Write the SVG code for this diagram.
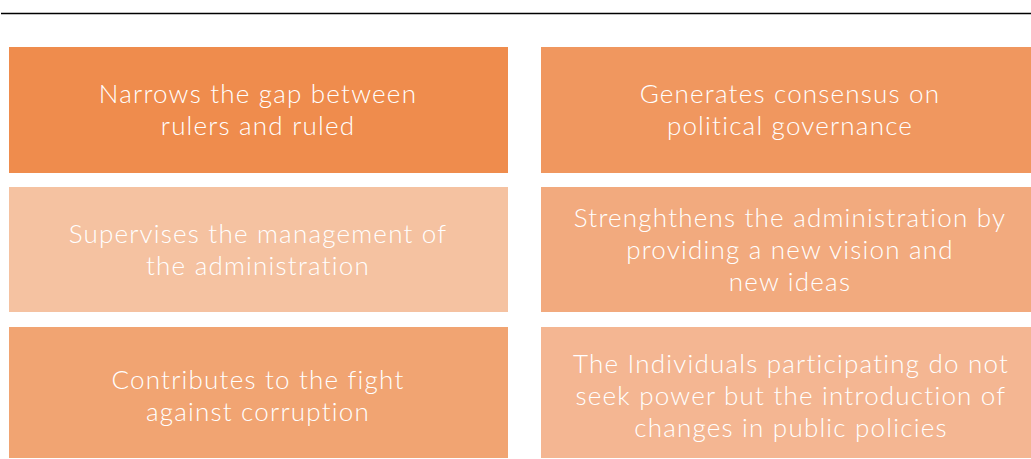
<svg xmlns="http://www.w3.org/2000/svg" width="1031" height="459" viewBox="0 0 1031 459">
<style>
.t{font-family:Lato,"Liberation Sans",sans-serif;font-weight:300;font-size:26px;fill:#ffffff;text-anchor:middle;letter-spacing:1.2px}
</style>
<rect width="1031" height="459" fill="#ffffff"/>
<line x1="1" y1="13.5" x2="1031" y2="13.5" stroke="#000000" stroke-width="1.3"/>
<g id="n1"><rect x="9" y="47" width="499" height="126" fill="#EF8C4D"/>
<text class="t" x="258" y="103">Narrows the gap between</text><text class="t" x="258" y="135">rulers and ruled</text></g>
<g id="n2"><rect x="541" y="47" width="490" height="126" fill="#F0975F"/>
<text class="t" x="790" y="103">Generates consensus on</text><text class="t" x="790" y="135">political governance</text></g>
<g id="n3"><rect x="9" y="187" width="499" height="125" fill="#F5C2A1"/>
<text class="t" x="258" y="243">Supervises the management of</text><text class="t" x="258" y="275">the administration</text></g>
<g id="n4"><rect x="541" y="187" width="490" height="125" fill="#F2AA7E"/>
<text class="t" x="790" y="227">Strenghthens the administration by</text><text class="t" x="790" y="259">providing a new vision and</text><text class="t" x="790" y="291">new ideas</text></g>
<g id="n5"><rect x="9" y="327" width="499" height="131" fill="#F1A472"/>
<text class="t" x="258" y="389">Contributes to the fight</text><text class="t" x="258" y="421">against corruption</text></g>
<g id="n6"><rect x="541" y="327" width="490" height="131" fill="#F4B692"/>
<text class="t" x="791" y="373">The Individuals participating do not</text><text class="t" x="791" y="405">seek power but the introduction of</text><text class="t" x="791" y="437">changes in public policies</text></g>
<g id="connectors"></g>
</svg>
